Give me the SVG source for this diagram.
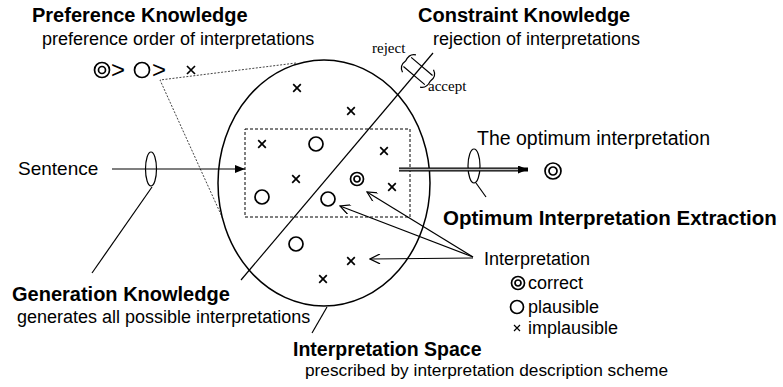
<svg xmlns="http://www.w3.org/2000/svg" width="783" height="387" viewBox="0 0 783 387">
<style>
text{font-family:"Liberation Sans",Arial,sans-serif;fill:#000}
.b{font-weight:bold;font-size:20px}
.n{font-size:18px}
.s{font-family:"Liberation Serif","Times New Roman",serif;font-size:15px}
.ln{stroke:#000;stroke-width:1.2;fill:none}
.mk{stroke:#000;stroke-width:1.7;fill:none}
.dot{stroke:#444;stroke-width:1;stroke-dasharray:2 1.5;fill:none}
</style>
<defs>
<marker id="fa" markerUnits="userSpaceOnUse" markerWidth="10" markerHeight="8" refX="10" refY="4" orient="auto"><path d="M0,0 L10,4 L0,8 z" fill="#000"/></marker>
<marker id="oa" markerUnits="userSpaceOnUse" markerWidth="12" markerHeight="10" refX="11" refY="5" orient="auto"><path d="M1,0 L11,5 L1,10" fill="none" stroke="#000" stroke-width="1.2"/></marker>
<g id="xm"><path d="M-3.8,-3.8 L3.8,3.8 M-3.8,3.8 L3.8,-3.8" class="mk"/></g>
<g id="om"><circle r="7" class="mk"/></g>
<g id="dm"><circle r="6.5" class="mk"/><circle r="3" class="mk"/></g>
</defs>

<g id="preference-knowledge">
<text class="b" x="32" y="22">Preference Knowledge</text>
<text class="n" x="42" y="45">preference order of interpretations</text>
<g transform="translate(102,70)"><circle r="7.5" class="mk"/><circle r="3.5" class="mk"/></g>
<text x="111" y="78" style="font-size:24px">&gt;</text>
<circle cx="142" cy="70" r="7.5" class="mk"/>
<text x="152" y="78" style="font-size:24px">&gt;</text>
<path d="M187,66 L195,74 M187,74 L195,66" class="mk"/>
<path class="dot" d="M296,63 L160,80 L223,219"/>
</g>

<g id="interpretation-space">
<ellipse cx="324" cy="183" rx="106" ry="123" fill="none" stroke="#000" stroke-width="1.5"/>
<rect x="245" y="129" width="165" height="88" fill="none" stroke="#000" stroke-width="1" stroke-dasharray="3 2"/>
<use href="#xm" x="297" y="88"/>
<use href="#xm" x="351" y="111"/>
<use href="#xm" x="262" y="144"/>
<use href="#om" x="316" y="144"/>
<use href="#xm" x="384" y="151"/>
<use href="#xm" x="296" y="179"/>
<use href="#dm" x="357" y="179"/>
<use href="#xm" x="392" y="187"/>
<use href="#om" x="262" y="197"/>
<use href="#om" x="328" y="199"/>
<use href="#om" x="296" y="244"/>
<use href="#xm" x="351" y="261"/>
<use href="#xm" x="323" y="279"/>
<text class="b" x="293" y="356" style="font-size:19.5px">Interpretation Space</text>
<text class="n" x="305" y="376" style="font-size:17.3px">prescribed by interpretation description scheme</text>
</g>

<g id="constraint-knowledge">
<text class="b" x="418" y="22">Constraint Knowledge</text>
<text class="n" x="433" y="45">rejection of interpretations</text>
<text class="s" x="372" y="53">reject</text>
<text class="s" x="428" y="91">accept</text>
<g transform="translate(418,71) rotate(-49.8)">
<path class="ln" d="M-6,-14 L-6,14 M6,-14 L6,14 M-11,-11 Q-8,-18 0,-16 Q8,-18 11,-12 M-11,12 Q-8,18 0,16 Q8,18 11,11"/>
</g>
</g>

<g id="generation-knowledge">
<text class="b" x="12" y="301">Generation Knowledge</text>
<text class="n" x="17" y="323">generates all possible interpretations</text>
</g>

<g id="sentence">
<text x="18" y="175" style="font-size:19px">Sentence</text>
<ellipse cx="151" cy="169" rx="5.5" ry="17" fill="none" stroke="#000" stroke-width="1.2"/>
</g>

<g id="optimum-extraction">
<text x="477" y="145" style="font-size:19.5px">The optimum interpretation</text>
<g transform="translate(553,171)"><circle r="8" class="mk"/><circle r="4" class="mk"/></g>
<ellipse cx="474" cy="166" rx="6" ry="17" fill="none" stroke="#000" stroke-width="1.2"/>
<text class="b" x="443" y="225" style="font-size:20.5px">Optimum Interpretation Extraction</text>
</g>

<g id="legend">
<text class="n" x="484" y="265">Interpretation</text>
<g transform="translate(518,283)"><circle r="6.5" class="mk"/><circle r="3" class="mk"/></g>
<text class="n" x="528" y="289">correct</text>
<circle cx="517" cy="307" r="6.5" class="mk"/>
<text class="n" x="528" y="313">plausible</text>
<path d="M514,325 L520,331 M514,331 L520,325" class="ln"/>
<text class="n" x="528" y="334">implausible</text>
</g>

<g id="connectors">
<line class="ln" x1="241" y1="280" x2="433" y2="53"/>
<line class="ln" x1="112" y1="169" x2="245" y2="169" marker-end="url(#fa)"/>
<line class="ln" x1="152" y1="187" x2="92" y2="273"/>
<line x1="399" y1="169.5" x2="528" y2="169.5" stroke="#000" stroke-width="4" marker-end="url(#fa)"/>
<line x1="399" y1="169.5" x2="518" y2="169.5" stroke="#bbb" stroke-width="1.4"/>
<line class="ln" x1="476" y1="183" x2="486" y2="197"/>
<line class="ln" x1="327" y1="307" x2="312" y2="333"/>
<line class="ln" x1="473" y1="257" x2="367" y2="192" marker-end="url(#oa)"/>
<line class="ln" x1="473" y1="257" x2="340" y2="206" marker-end="url(#oa)"/>
<line class="ln" x1="473" y1="258" x2="370" y2="259" marker-end="url(#oa)"/>
</g>
</svg>
